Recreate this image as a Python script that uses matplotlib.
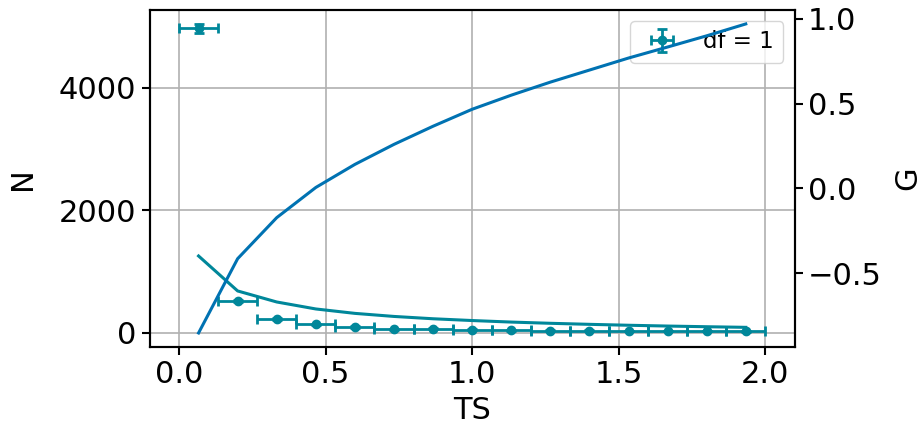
import numpy as np
import matplotlib
matplotlib.use("Agg")
import matplotlib.pyplot as plt

# histogram bins (centres) and half widths
ts = [0.0667, 0.2, 0.3333, 0.4667, 0.6, 0.7333, 0.8667, 1.0, 1.1333,
      1.2667, 1.4, 1.5333, 1.6667, 1.8, 1.9333]
ts_err = 0.0667
counts = [4975, 522, 224, 142, 98, 62, 66, 50, 45, 40, 38, 34, 31, 30, 26]
# expected counts curve
expected = [1257, 686, 506, 392, 320, 270, 232, 203, 178, 158, 141, 126, 113, 102, 92]
# G values on right axis
g_vals = [-0.852, -0.414, -0.172, 0.006, 0.142, 0.26, 0.367, 0.467, 0.55,
          0.627, 0.698, 0.769, 0.834, 0.9, 0.97]

teal = '#00879a'
blue = '#0072b2'

plt.rcParams['font.size'] = 22
fig = plt.figure(figsize=(9.24, 4.29), dpi=100)
ax = fig.add_axes([0.162, 0.191, 0.698, 0.786])
ax.errorbar(ts, counts, xerr=ts_err, yerr=np.sqrt(counts), fmt='o', color=teal,
            ms=6, capsize=3.5, lw=2, capthick=2, label='df = 1')
ax.plot(ts, expected, color=teal, lw=2.2)
ax.set_xlabel('TS', labelpad=5)
ax.set_ylabel('N', labelpad=16)
ax.grid(True, color='#b0b0b0', lw=1.2)
ax.set_xlim(-0.1, 2.1)
ax.set_ylim(-230, 5275)
ax.set_xticks([0.0, 0.5, 1.0, 1.5, 2.0])
ax.set_yticks([0, 2000, 4000])
ax.legend(loc='upper right', fontsize=16.5)

ax2 = ax.twinx()
ax2.plot(ts, g_vals, color=blue, lw=2.2)
ax2.set_ylabel('G', labelpad=8)
ax2.set_ylim(-0.935, 1.053)
ax2.set_yticks([-0.5, 0.0, 0.5, 1.0])

for a in (ax, ax2):
    for s in a.spines.values():
        s.set_linewidth(1.5)
    a.tick_params(width=1.5, length=6)

fig.savefig('out.png', dpi=100)
